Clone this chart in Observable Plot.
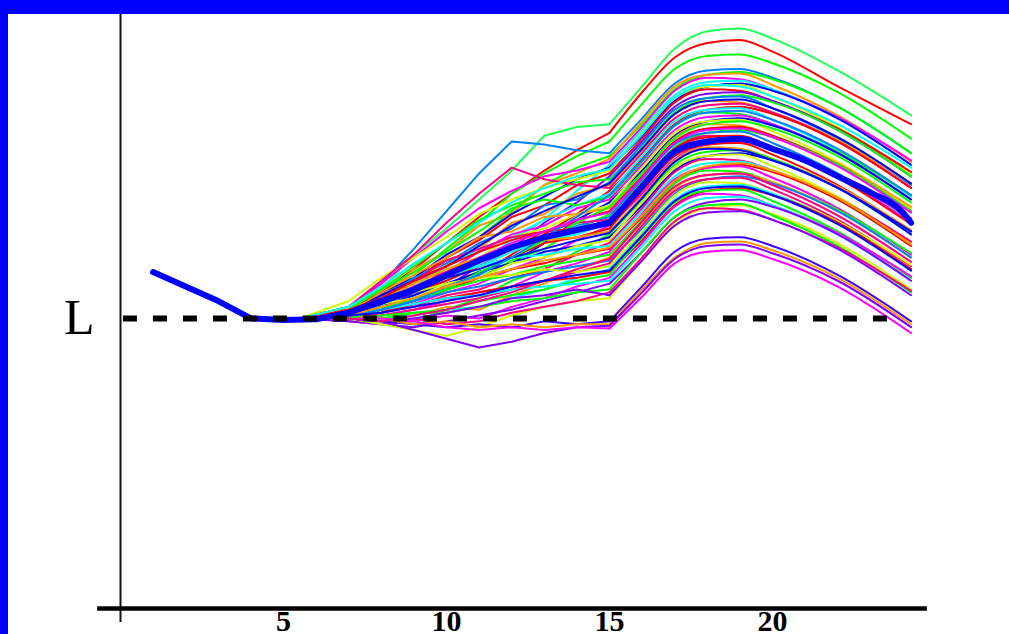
<!DOCTYPE html>
<html>
<head>
<meta charset="utf-8">
<script src="https://cdn.jsdelivr.net/npm/d3@7"></script>
<script src="https://cdn.jsdelivr.net/npm/@observablehq/plot@0.6"></script>
<style>
  html, body { margin: 0; padding: 0; background: #fff; }
  #frame {
    width: 1001px; height: 620px;
    border-top: 14px solid #0000ff;
    border-left: 8px solid #0000ff;
    background: #fff; overflow: hidden;
  }
  #frame svg { display: block; }
</style>
</head>
<body>
<div id="frame"></div>
<script>
// Time points at which every simulated path is sampled
const knotX = [5.5, 7, 8, 9, 10, 11, 12, 13, 14, 15, 16, 17, 18, 19, 20, 22, 24.25];

// Simulated paths (level index, L = 100)
const p01 = [100, 103, 110, 122, 131, 141, 151, 163, 166, 167, 180, 193, 199, 200, 196.5, 185.5, 170];
const p02 = [100, 103, 109, 117, 126, 135, 143, 151, 158, 164, 178, 190, 195, 196, 192, 180, 167];
const p03 = [100, 102, 107, 115, 124, 133, 143, 150, 156, 161, 174, 186, 190.5, 191, 188, 178, 162];
const p04 = [100, 104, 112, 124, 137, 150, 161, 160, 158, 157, 169, 181, 185.5, 186, 183, 173, 157];
const p05 = [100, 102, 106, 113, 121, 128, 137, 146, 152, 156, 167, 179, 184, 185, 182.5, 173, 157];
const p06 = [100, 104, 107, 117, 123, 132, 136, 146, 150, 155, 168, 180, 184, 184.5, 180.5, 170, 154];
const p07 = [100, 104, 112, 121, 130, 138, 144, 149, 151, 154, 166, 178.5, 183, 182.5, 179, 169.5, 154.5];
const p08 = [100, 101, 104, 108, 113, 119, 127, 134, 144, 153, 165, 177, 181.5, 182, 179, 169, 153];
const p09 = [100, 102, 109, 114, 122, 128, 136, 142, 148, 152, 163, 175, 180, 181, 178.5, 169, 153];
const p10 = [100, 106, 114, 121, 128, 136, 141, 145, 148, 151, 164, 176, 180, 180.5, 176.5, 166, 150];
const p11 = [100, 101, 108, 113, 121, 127, 135, 139, 146, 150, 162, 174.5, 179, 178.5, 175, 165.5, 150.5];
const p12 = [100, 100, 103, 109, 111, 118, 124, 133, 140, 149, 161, 173, 177.5, 178, 175, 165, 149];
const p13 = [100, 103, 110, 118, 126, 134, 139, 143, 147, 148, 159, 171, 176, 177, 174.5, 165, 149];
const p14 = [100, 102, 107, 114, 119, 126, 131, 139, 141, 147, 160, 172, 176, 176.5, 172.5, 162, 146];
const p15 = [100, 101, 106, 112, 120, 124, 133, 136, 143, 146, 158, 170.5, 175, 174.5, 171, 161.5, 146.5];
const p16 = [100, 104, 113, 122, 133, 143, 152, 148, 146, 145, 157, 169, 173.5, 174, 171, 161, 145];
const p17 = [100, 101, 102, 107, 112, 115, 122, 129, 136, 144, 155, 167, 172, 173, 170.5, 161, 145];
const p18 = [100, 102, 106, 111, 118, 124, 128, 134, 139, 143, 156, 168, 172, 172.5, 168.5, 158, 142];
const p19 = [100, 104, 110, 116, 123, 130, 138, 141, 139, 142, 154, 166.5, 171, 170.5, 167, 157.5, 142.5];
const p20 = [100, 101, 106, 113, 116, 123, 129, 132, 138, 141, 153, 165, 169.5, 170, 167, 157, 141];
const p21 = [100, 100, 103, 106, 110, 116, 119, 126, 134, 140, 151, 163, 168, 169, 166.5, 157, 141];
const p22 = [100, 103, 107, 112, 117, 121, 128, 131, 136, 139, 152, 164, 168, 168.5, 164.5, 154, 138];
const p23 = [100, 102, 109, 115, 121, 128, 130, 135, 136, 138, 150, 162.5, 167, 166.5, 163, 153.5, 138.5];
const p24 = [100, 101, 105, 111, 116, 121, 124, 130, 134, 137, 149, 161, 165.5, 166, 163, 153, 137];
const p25 = [100, 101, 104, 106, 111, 114, 120, 124, 131, 136, 147, 159, 164, 165, 162.5, 153, 137];
const p26 = [100, 102, 106, 110, 115, 120, 125, 128, 132, 135, 148, 160, 164, 164.5, 160.5, 150, 134];
const p27 = [100, 102, 108, 113, 120, 124, 128, 130, 133, 134, 146, 158.5, 163, 162.5, 159, 149.5, 134.5];
const p28 = [100, 101, 104, 110, 113, 118, 123, 127, 129, 133, 145, 157, 161.5, 162, 159, 149, 133];
const p29 = [100, 100, 102, 105, 109, 112, 117, 121, 127, 132, 143, 155, 160, 161, 158.5, 149, 133];
const p30 = [100, 102, 105, 109, 113, 118, 121, 126, 128, 131, 144, 156, 160, 160.5, 156.5, 146, 130];
const p31 = [100, 103, 107, 112, 117, 121, 124, 127, 128, 130, 142, 154.5, 159, 158.5, 155, 145.5, 130.5];
const p32 = [100, 100, 98, 99, 103, 107, 113, 117, 123, 129, 141, 153, 157.5, 158, 155, 145, 129];
const p33 = [100, 101, 104, 108, 112, 116, 119, 123, 125, 128, 139, 151, 156, 157, 154.5, 145, 129];
const p34 = [100, 102, 105, 107, 112, 114, 119, 121, 125, 127, 140, 152, 156, 156.5, 152.5, 142, 126];
const p35 = [100, 100, 102, 104, 108, 110, 114, 117, 122, 126, 138, 150.5, 155, 154.5, 151, 141.5, 126.5];
const p36 = [100, 102, 106, 111, 115, 118, 121, 122, 124, 125, 137, 149, 153.5, 154, 151, 141, 125];
const p37 = [100, 101, 103, 107, 110, 114, 117, 119, 122, 124, 135, 147, 152, 153, 150.5, 141, 125];
const p38 = [100, 100, 101, 103, 106, 109, 111, 116, 119, 123, 136, 148, 152, 152.5, 148.5, 138, 122];
const p39 = [100, 101, 104, 106, 110, 113, 115, 118, 120, 122, 134, 146.5, 151, 150.5, 147, 137.5, 122.5];
const p40 = [100, 100, 99, 101, 104, 103, 108, 112, 117, 121, 133, 145, 149.5, 150, 147, 137, 121];
const p41 = [100, 101, 103, 106, 109, 111, 114, 116, 118, 120, 131, 143, 148, 149, 146.5, 137, 121];
const p42 = [100, 100, 101, 103, 105, 107, 110, 113, 116, 119, 132, 144, 148, 148.5, 144.5, 134, 118];
const p43 = [100, 102, 106, 109, 112, 114, 115, 117, 116, 118, 130, 142.5, 147, 146.5, 143, 133.5, 118.5];
const p44 = [100, 100, 100, 101, 103, 104, 107, 110, 114, 117, 129, 141, 145.5, 146, 143, 133, 117];
const p45 = [100, 101, 102, 105, 107, 109, 111, 113, 114, 116, 127, 139, 144, 145, 142.5, 133, 117];
const p46 = [100, 100, 100, 102, 103, 106, 108, 110, 113, 115, 128, 140, 144, 144.5, 140.5, 130, 114];
const p47 = [100, 99, 98, 99, 101, 100, 104, 107, 111, 114, 126, 138.5, 143, 142.5, 139, 129.5, 114.5];
const p48 = [100, 101, 103, 105, 107, 108, 110, 111, 112, 113, 125, 137, 141.5, 142, 139, 129, 113];
const p49 = [100, 99, 98, 97, 99, 101, 103, 106, 109, 112, 123, 135, 140, 141, 138.5, 129, 113];
const p50 = [100, 100, 98, 96, 94, 97, 101, 104, 106, 107, 120, 133, 138, 139, 136, 126, 110];
const p51 = [100, 100, 101, 102, 102, 104, 106, 107, 109, 110, 123, 135, 139, 139.5, 135.5, 125, 109];
const p52 = [100, 100, 99, 100, 98, 99, 102, 104, 106, 109, 121, 133.5, 138, 137.5, 134, 124.5, 109.5];
const p53 = [100, 100, 99, 100, 102, 104, 107, 108, 110, 108, 120, 132, 136.5, 137, 134, 124, 108];
const p54 = [100, 100, 99, 98, 97, 98, 97, 99, 98, 99, 111, 123, 127.5, 128, 125, 115, 99];
const p55 = [100, 101, 100, 98, 99, 97, 98, 97, 98, 98, 110, 121, 126, 126.5, 123.5, 114, 98];
const p56 = [100, 100, 99, 96, 93, 90, 92, 95, 97, 97.5, 109, 120.5, 125, 125.5, 122.5, 113, 97];
const p57 = [100, 100, 100, 99, 97, 96, 97, 96, 97, 96.5, 107.5, 119, 123, 123.5, 120.5, 111, 95];
const p58 = [100, 102, 108, 113, 118, 125, 132, 137, 142, 146.5, 158.5, 170.5, 175, 175.5, 172.5, 162.5, 146.5];
const p59 = [100, 100, 103, 107, 110, 116, 121, 127, 133, 138.5, 150, 162, 167, 168, 165.5, 156, 140];
const p60 = [100, 103, 107, 113, 118, 123, 127, 130, 131, 133.5, 146.5, 158.5, 162.5, 163, 159, 148.5, 132.5];
const p61 = [100, 101, 105, 109, 114, 117, 121, 124, 127, 129.5, 141.5, 154, 158.5, 158, 154.5, 145, 130];
const p62 = [100, 101, 103, 106, 111, 115, 121, 128, 135, 142.5, 154.5, 166.5, 171, 171.5, 168.5, 158.5, 142.5];
const p63 = [100, 101, 104, 107, 111, 114, 117, 120, 122, 124.5, 135.5, 147.5, 152.5, 153.5, 151, 141.5, 125.5];
const p64 = [100, 100, 99, 101, 103, 106, 109, 113, 117, 120.5, 133.5, 145.5, 149.5, 150, 146, 135.5, 119.5];
const p65 = [100, 104, 111, 119, 126, 133, 140, 145, 149, 151.5, 163.5, 176, 180.5, 180, 176.5, 167, 152];
const p66 = [100, 101, 106, 111, 115, 121, 126, 130, 134, 136.5, 148.5, 160.5, 165, 165.5, 162.5, 152.5, 136.5];
const p67 = [100, 101, 102, 104, 106, 108, 111, 113, 115, 116.5, 128.5, 140.5, 145, 145.5, 142.5, 132.5, 116.5];

const pathValues = [
  p01, p02, p03, p04, p05, p06, p07, p08, p09, p10, p11, p12, p13, p14, p15, p16, p17,
  p18, p19, p20, p21, p22, p23, p24, p25, p26, p27, p28, p29, p30, p31, p32, p33, p34,
  p35, p36, p37, p38, p39, p40, p41, p42, p43, p44, p45, p46, p47, p48, p49, p50, p51,
  p52, p53, p54, p55, p56, p57, p58, p59, p60, p61, p62, p63, p64, p65, p66, p67
];

const pathColors = [
  "#22ff55", "#ff0000", "#00ff00", "#0080ff", "#00ff00", "#ff9900", "#ff00ff", "#00ffff",
  "#0000ff", "#ccff00", "#ff0000", "#8000ff", "#00ff00", "#0080ff", "#ff9900", "#ff0080",
  "#ff0000", "#00ffff", "#00ff00", "#ff00ff", "#0000ff", "#ccff00", "#ff9900", "#ff0000",
  "#00ff00", "#0080ff", "#ff0080", "#00ffff", "#ff00ff", "#ff0000", "#ff9900", "#00ff00",
  "#0000ff", "#ccff00", "#ff0080", "#00ffff", "#ff0000", "#ff00ff", "#00ff00", "#ff9900",
  "#0080ff", "#ff0080", "#ccff00", "#00ffff", "#ff0000", "#00ff00", "#ff00ff", "#00ffff",
  "#8000ff", "#ccff00", "#00ff00", "#ff0080", "#8000ff", "#4000ff", "#ff9900", "#8000ff",
  "#ff00ff", "#0000ff", "#00ff00", "#ff0000", "#0000ff", "#0080ff", "#ff9900", "#ff0080",
  "#00ffff", "#ff00ff", "#0000ff"
];

// Average path
const meanX = [1, 2, 3, 4, 5, 6, 7, 8, 9, 10, 11, 12, 13, 14, 15, 16, 17, 18, 19, 20, 21, 22, 23, 24, 24.25];
const meanY = [116, 111, 106, 100, 99.5, 99.7, 102, 106, 110, 115, 120, 124.5, 128, 130.5, 133,
               145.5, 157.5, 161, 162, 158.5, 154.5, 149, 143.5, 136.5, 133];

// Reference level L and the stretch it is drawn over
const levelL = 100;
const levelFrom = 0.09;
const levelTo = 23.56;

const xTicks = [5, 10, 15, 20];

const rows = pathValues.flatMap((vals, i) =>
  vals.map((v, k) => ({id: i, x: knotX[k], y: v, color: pathColors[i]})));
const before = rows.filter(d => d.x <= 15);
const after = rows.filter(d => d.x >= 15);
const meanRows = meanX.map((x, k) => ({x, y: meanY[k]}));

const chart = Plot.plot({
  width: 1001,
  height: 620,
  marginLeft: 112,
  marginRight: 74,
  marginTop: 0,
  marginBottom: 26,
  x: {domain: [0, 25]},
  y: {domain: [0, 204.8]},
  color: {type: "identity"},
  style: {background: "#fff", overflow: "visible"},
  marks: [
    Plot.line(before, {x: "x", y: "y", z: "id", stroke: "color", strokeWidth: 2, curve: "linear"}),
    Plot.line(after, {x: "x", y: "y", z: "id", stroke: "color", strokeWidth: 2, curve: "monotone-x"}),
    Plot.line(meanRows.filter(d => d.x <= 15), {x: "x", y: "y", stroke: "#0000ff", strokeWidth: 6, strokeLinecap: "round"}),
    Plot.line(meanRows.filter(d => d.x >= 15), {x: "x", y: "y", stroke: "#0000ff", strokeWidth: 6, strokeLinecap: "round", curve: "monotone-x"}),
    Plot.ruleY([levelL], {x1: levelFrom, x2: levelTo, stroke: "#000", strokeWidth: 6, strokeDasharray: "14,16"}),
    Plot.ruleX([0], {y1: -4.8, y2: 204.8, stroke: "#111", strokeWidth: 2}),
    Plot.ruleY([0], {x1: -0.7, x2: 24.75, stroke: "#000", strokeWidth: 4.5}),
    Plot.axisX({ticks: xTicks, tickSize: 0, tickPadding: 1, label: null,
      fontSize: 30, fontWeight: "bold", fontFamily: "Liberation Serif"}),
    Plot.axisY({ticks: [levelL], tickFormat: () => "L", tickSize: 0, tickPadding: 26, label: null,
      fontSize: 50, fontFamily: "Liberation Serif"})
  ]
});

document.getElementById("frame").appendChild(chart);
</script>
</body>
</html>
